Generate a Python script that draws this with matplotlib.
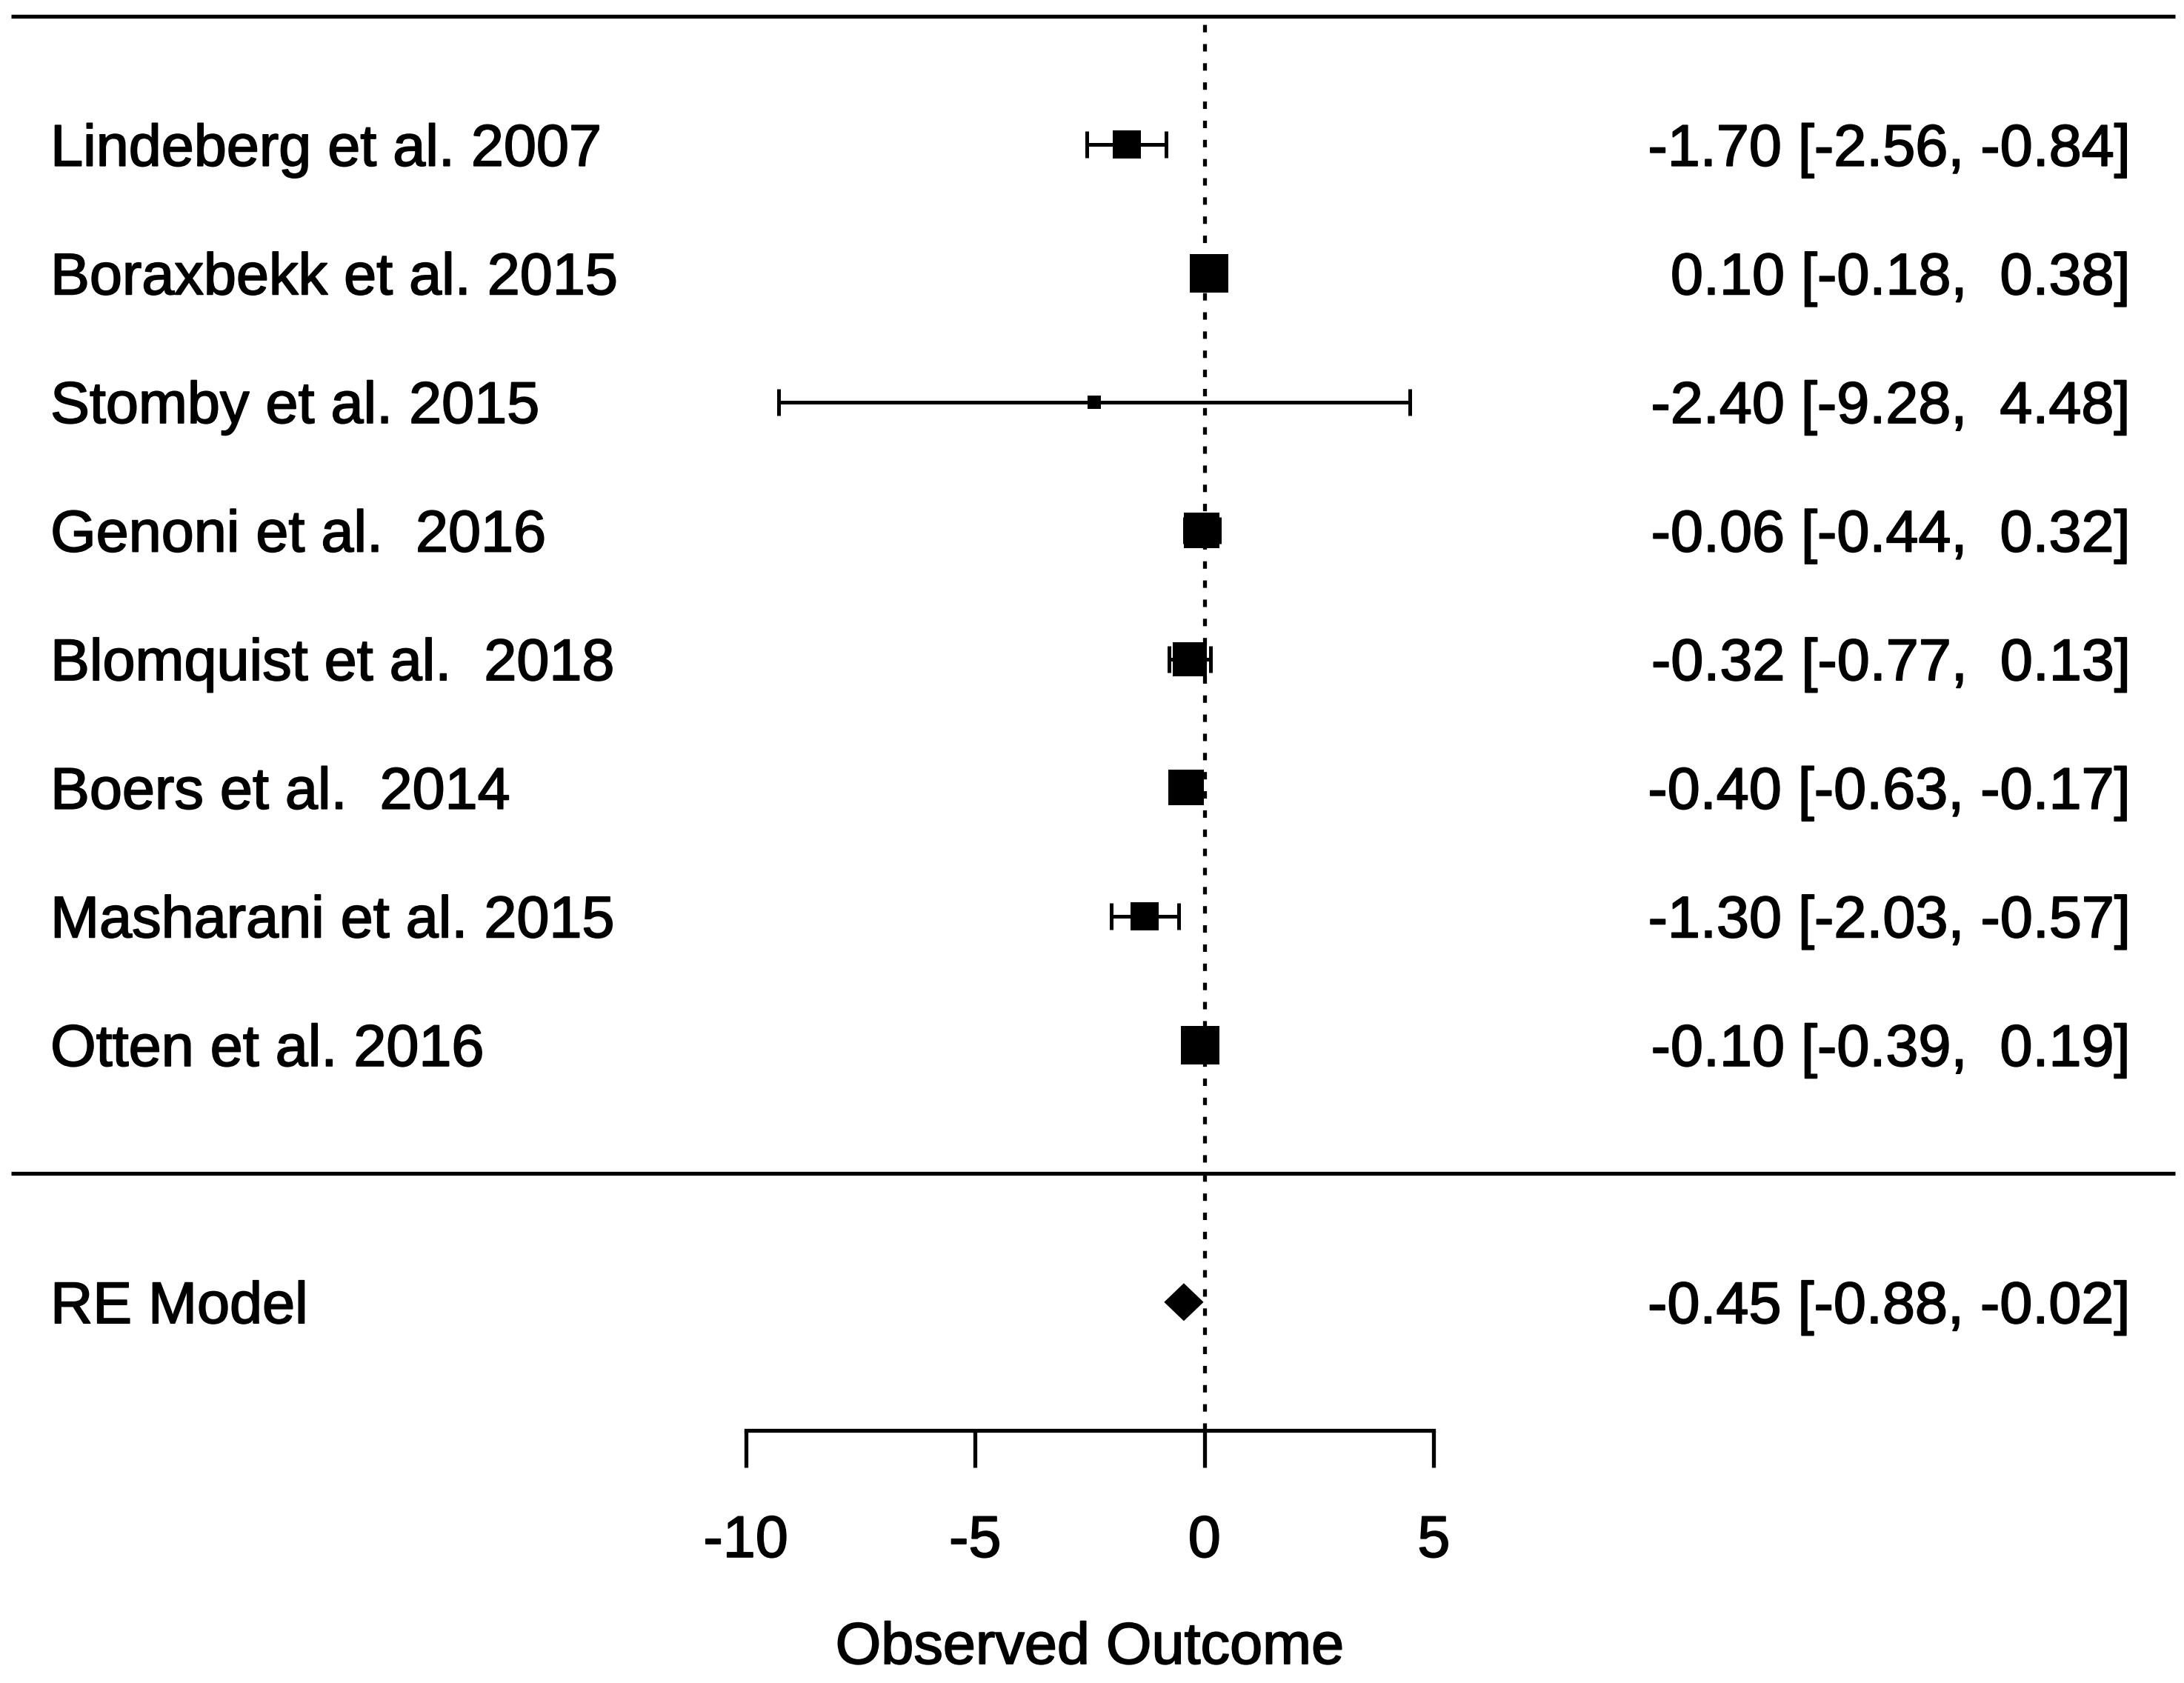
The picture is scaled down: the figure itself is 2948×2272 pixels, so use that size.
import matplotlib
matplotlib.use("Agg")
import matplotlib.pyplot as plt
import matplotlib.patheffects as pe
import numpy as np

# ---- data ----
studies = ["Lindeberg et al. 2007", "Boraxbekk et al. 2015", "Stomby et al. 2015",
           "Genoni et al.  2016", "Blomquist et al.  2018", "Boers et al.  2014",
           "Masharani et al. 2015", "Otten et al. 2016"]
estimates = [-1.70, 0.10, -2.40, -0.06, -0.32, -0.40, -1.30, -0.10]
ci_low = [-2.56, -0.18, -9.28, -0.44, -0.77, -0.63, -2.03, -0.39]
ci_high = [-0.84, 0.38, 4.48, 0.32, 0.13, -0.17, -0.57, 0.19]
square_pts = [27, 37, 12.5, 34, 33, 35, 28, 37]   # marker side (points), ~ weights

model_label = "RE Model"
model_est = -0.45
model_low = -0.88
model_high = -0.02

xticks = [-10, -5, 0, 5]
xlabel = "Observed Outcome"

# ---- figure ----
W, H, DPI = 2948, 2272, 100
fig = plt.figure(figsize=(W / DPI, H / DPI), dpi=DPI)
ax = fig.add_axes([0, 0, 1, 1])
FONT = ["Liberation Sans", "DejaVu Sans"]
FS = 57
EFF = [pe.withStroke(linewidth=1.3, foreground="black")]

# x scale: -10 at px 1006, 5 at px 1934.5
ppu = (1934.5 - 1005.8) / 15.0
x0px = 1625.8
ax.set_xlim(-x0px / ppu, (W - x0px) / ppu)
# y scale: row 9 at px 21.8 from top, 173.6 px per row
rpx = 173.6
ytop = 9 + 21.8 / rpx
ax.set_ylim(ytop - H / rpx, ytop)

k = len(studies)
rows = np.arange(k, 0, -1)
cap_half = 0.5 * 0.716 * FS * DPI / 72 / rpx  # half cap height in data units

yax = ax.get_yaxis_transform()
LW = 3.8

def txt(x, y, s, **kw):
    t = ax.text(x, y, s, fontsize=FS, family=FONT, **kw)
    t.set_path_effects(EFF)
    return t

# horizontal rules
ax.axhline(k + 1, xmin=0.005, xmax=0.996, color="black", lw=LW, solid_capstyle="butt")
ax.axhline(0, xmin=0.005, xmax=0.996, color="black", lw=LW, solid_capstyle="butt")

# reference dotted line
ax.plot([0, 0], [-2, k + 1], color="black", lw=3.8,
        linestyle=(0, (1.9, 3.0)), zorder=1, dash_capstyle="butt")

# studies
for y, lab, e, lo, hi, s in zip(rows, studies, estimates, ci_low, ci_high, square_pts):
    ax.errorbar([e], [y], xerr=[[e - lo], [hi - e]], fmt="none", ecolor="black",
                elinewidth=3.6, capsize=13, capthick=3.6, zorder=3)
    ax.plot([e], [y], marker="s", markersize=s, color="black",
            markeredgewidth=0, linestyle="none", zorder=4)
    txt(0.0231, y - cap_half, lab, transform=yax, ha="left", va="baseline")
    txt(0.9756, y - cap_half, f"{e:>5.2f} [{lo:.2f}, {hi:>5.2f}]", transform=yax,
        ha="right", va="baseline")

# summary diamond
ym = -1
dh = 0.147
ax.fill([model_low, model_est, model_high, model_est],
        [ym, ym + dh, ym, ym - dh], color="black", lw=0, zorder=4)
txt(0.0231, ym - cap_half, model_label, transform=yax, ha="left", va="baseline")
txt(0.9756, ym - cap_half,
    f"{model_est:>5.2f} [{model_low:.2f}, {model_high:>5.2f}]", transform=yax,
    ha="right", va="baseline")

# x axis
for sp in ["top", "left", "right"]:
    ax.spines[sp].set_visible(False)
ax.spines["bottom"].set_position(("data", -2))
ax.spines["bottom"].set_bounds(min(xticks), max(xticks))
ax.spines["bottom"].set_linewidth(LW)
ax.set_xticks(xticks)
ax.set_xticklabels([str(t) for t in xticks], fontsize=FS, family=FONT)
for t in ax.get_xticklabels():
    t.set_path_effects(EFF)
ax.tick_params(axis="x", direction="out", length=36, width=LW, pad=45)
ax.set_yticks([])
txt(np.mean([min(xticks), max(xticks)]), -3.812, xlabel, ha="center", va="baseline")

fig.savefig("out.png", dpi=DPI)
